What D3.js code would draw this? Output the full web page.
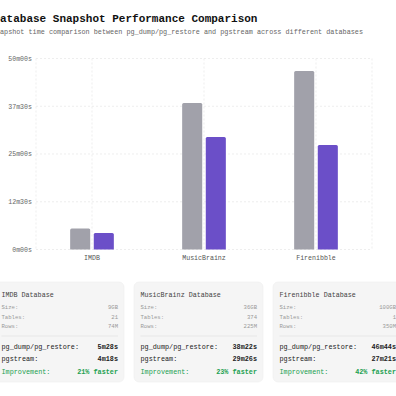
<!DOCTYPE html>
<html>
<head>
<meta charset="utf-8">
<script src="https://cdn.jsdelivr.net/npm/d3@7"></script>
<style>
  html, body { margin: 0; padding: 0; background: #fff; overflow: hidden; }
  svg { display: block; font-family: "Liberation Mono", "DejaVu Sans Mono", monospace; }
</style>
</head>
<body>
<script>
// chart data
var databases = ["IMDB", "MusicBrainz", "Firenibble"];
var pgDumpSeconds = [328, 2302, 2804];     // 5m28s, 38m22s, 46m44s
var pgstreamSeconds = [258, 1766, 1641];   // 4m18s, 29m26s, 27m21s
var sizes = ["9GB", "36GB", "100GB"];
var tableCounts = ["21", "374", "1"];
var rowCounts = ["74M", "225M", "350M"];
var improvements = ["21% faster", "23% faster", "42% faster"];
var yTicks = [0, 750, 1500, 2250, 3000];

var width = 396, height = 396;

function fmt(sec) {
	var m = Math.floor(sec / 60), s = Math.round(sec % 60);
	return m + "m" + (s < 10 ? "0" : "") + s + "s";
}

var svg = d3.select("body").append("svg")
	.attr("width", width)
	.attr("height", height);

// title + subtitle (page is wider than the window, left edge is cut)
svg.append("text")
	.attr("x", -6.6).attr("y", 22)
	.attr("font-size", 11).attr("font-weight", "bold").attr("fill", "#111")
	.text("Database Snapshot Performance Comparison");
svg.append("text")
	.attr("x", -8.2).attr("y", 34)
	.attr("font-size", 6.8).attr("fill", "#666")
	.text("Snapshot time comparison between pg_dump/pg_restore and pgstream across different databases");

// scales
var x0 = d3.scaleBand()
	.domain(databases)
	.range([36, 372])
	.paddingInner(0.61)
	.paddingOuter(0.305);
var x1 = d3.scaleBand()
	.domain(["pgdump", "pgstream"])
	.range([0, x0.bandwidth()])
	.paddingInner(0.15);
var y = d3.scaleLinear()
	.domain([0, 3000])
	.range([249.5, 58.5]);

// grid
var grid = svg.append("g").attr("stroke", "#e6e6e6").attr("stroke-dasharray", "2,2").attr("stroke-width", 0.7);
grid.selectAll("line.h").data(yTicks).enter().append("line")
	.attr("x1", 36).attr("x2", 372)
	.attr("y1", function(d) { return y(d); })
	.attr("y2", function(d) { return y(d); });
var vx = [36].concat(databases.map(function(d) { return x0(d) + x0.bandwidth() / 2; })).concat([372]);
grid.selectAll("line.v").data(vx).enter().append("line")
	.attr("x1", function(d) { return d; }).attr("x2", function(d) { return d; })
	.attr("y1", y(3000)).attr("y2", y(0));

// y axis labels
svg.append("g").selectAll("text").data(yTicks).enter().append("text")
	.attr("x", 32).attr("y", function(d) { return y(d) + 2.3; })
	.attr("text-anchor", "end").attr("font-size", 6.6).attr("fill", "#666")
	.text(fmt);

// x axis labels
svg.append("g").selectAll("text").data(databases).enter().append("text")
	.attr("x", function(d) { return x0(d) + x0.bandwidth() / 2; })
	.attr("y", 259.5)
	.attr("text-anchor", "middle").attr("font-size", 6.6).attr("fill", "#555")
	.text(function(d) { return d; });

// bars
var rows = databases.map(function(d, i) {
	return { db: d, vals: [
		{ key: "pgdump", v: pgDumpSeconds[i], c: "#a1a1aa" },
		{ key: "pgstream", v: pgstreamSeconds[i], c: "#6b4fc8" }
	] };
});
function topRounded(x, yTop, w, yBot, r) {
	return "M" + x + "," + yBot + "V" + (yTop + r) +
		"Q" + x + "," + yTop + " " + (x + r) + "," + yTop +
		"H" + (x + w - r) + "Q" + (x + w) + "," + yTop + " " + (x + w) + "," + (yTop + r) +
		"V" + yBot + "Z";
}
svg.append("g").selectAll("g").data(rows).enter().append("g")
	.attr("transform", function(d) { return "translate(" + x0(d.db) + ",0)"; })
	.selectAll("path").data(function(d) { return d.vals; }).enter().append("path")
	.attr("fill", function(d) { return d.c; })
	.attr("d", function(d) { return topRounded(x1(d.key), y(d.v), x1.bandwidth(), y(0), 1.5); });

// info cards
var cardW = 129, cardH = 100, cardTop = 282, cardStep = 139, cardLeft = -5;
var cards = svg.append("g").selectAll("g").data(databases).enter().append("g")
	.attr("transform", function(d, i) { return "translate(" + (cardLeft + i * cardStep) + "," + cardTop + ")"; });
cards.append("rect")
	.attr("width", cardW).attr("height", cardH).attr("rx", 5)
	.attr("fill", "#f5f5f5").attr("stroke", "#efefef").attr("stroke-width", 0.6);
cards.append("text")
	.attr("x", 6.5).attr("y", 15)
	.attr("font-size", 6.7).attr("fill", "#444")
	.text(function(d) { return d + " Database"; });

var infoLabels = ["Size:", "Tables:", "Rows:"];
var infoVals = [sizes, tableCounts, rowCounts];
infoLabels.forEach(function(lab, k) {
	cards.append("text")
		.attr("x", 6.5).attr("y", 27 + k * 9.5)
		.attr("font-size", 5.6).attr("fill", "#999")
		.text(lab);
	cards.append("text")
		.attr("x", cardW - 6).attr("y", 27 + k * 9.5)
		.attr("text-anchor", "end").attr("font-size", 5.6).attr("fill", "#999")
		.text(function(d, i) { return infoVals[k][i]; });
});
cards.append("line")
	.attr("x1", 6.5).attr("x2", cardW - 6)
	.attr("y1", 54).attr("y2", 54)
	.attr("stroke", "#e2e2e2").attr("stroke-width", 0.7);

var metricLabels = ["pg_dump/pg_restore:", "pgstream:", "Improvement:"];
var metricVals = [pgDumpSeconds.map(fmt), pgstreamSeconds.map(fmt), improvements];
metricLabels.forEach(function(lab, k) {
	var col = k === 2 ? "#22a050" : "#222";
	cards.append("text")
		.attr("x", 6.5).attr("y", 67 + k * 12.4)
		.attr("font-size", 6.8).attr("fill", col)
		.text(lab);
	cards.append("text")
		.attr("x", cardW - 6).attr("y", 67 + k * 12.4)
		.attr("text-anchor", "end").attr("font-size", 6.8).attr("fill", col)
		.attr("font-weight", "bold")
		.text(function(d, i) { return metricVals[k][i]; });
});
</script>
</body>
</html>
